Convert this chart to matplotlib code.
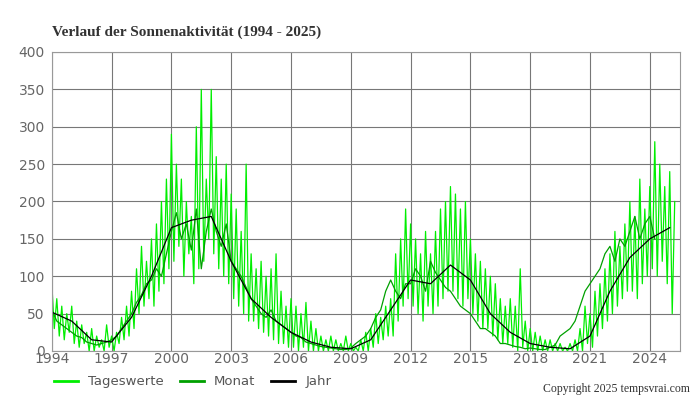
import numpy as np
import matplotlib.pyplot as plt

# Daily values (sampled envelope, 8 per year from 1994)
tageswerte = [
    90, 30, 70, 20, 60, 15, 50, 25,
    60, 10, 40, 5, 35, 10, 25, 0,
    30, 0, 20, 5, 15, 0, 35, 5,
    20, 0, 25, 10, 45, 15, 60, 20,
    80, 30, 110, 50, 140, 60, 120, 70,
    150, 60, 170, 80, 200, 90, 230, 110,
    290, 120, 250, 140, 230, 100, 200, 130,
    180, 90, 300, 110, 350, 120, 230, 150,
    350, 130, 260, 110, 230, 100, 250, 90,
    210, 70, 190, 60, 160, 50, 250, 40,
    130, 40, 110, 30, 120, 25, 100, 20,
    110, 15, 130, 10, 80, 10, 60, 5,
    70, 5, 60, 0, 50, 5, 65, 0,
    40, 0, 30, 0, 20, 0, 15, 0,
    20, 0, 15, 0, 10, 0, 20, 0,
    10, 0, 5, 0, 15, 0, 25, 0,
    30, 5, 50, 10, 45, 15, 60, 20,
    70, 20, 130, 40, 150, 60, 190, 70,
    170, 60, 150, 50, 130, 40, 160, 60,
    130, 50, 160, 60, 190, 70, 200, 80,
    220, 80, 210, 70, 190, 60, 200, 70,
    150, 50, 130, 40, 120, 30, 110, 30,
    100, 20, 90, 15, 70, 10, 60, 10,
    70, 5, 60, 0, 110, 5, 40, 0,
    30, 0, 25, 0, 20, 0, 15, 0,
    15, 0, 10, 0, 10, 0, 5, 0,
    10, 0, 15, 0, 30, 0, 60, 10,
    50, 5, 80, 20, 90, 30, 110, 40,
    130, 50, 160, 60, 140, 70, 170, 80,
    200, 80, 180, 70, 230, 90, 190, 100,
    220, 110, 280, 100, 250, 120, 220, 90,
    240, 50, 200,
]

# Monthly means (sampled quarterly)
monat = [
    55, 40, 35, 30, 25, 20, 18, 12, 10, 8, 10, 12,
    15, 20, 30, 40, 50, 65, 75, 90, 95, 110, 100, 130,
    160, 185, 150, 170, 135, 190, 110, 160, 190, 160, 140, 170,
    120, 110, 100, 85, 70, 60, 50, 45, 55, 40, 35, 30,
    25, 20, 18, 12, 10, 8, 6, 5, 4, 3, 2, 2,
    4, 10, 15, 20, 30, 45, 55, 80, 95, 80, 70, 90,
    90, 110, 100, 80, 120, 105, 95, 85, 80, 70, 60, 55,
    50, 40, 30, 30, 25, 20, 10, 10, 8, 6, 5, 3,
    4, 3, 2, 2, 5, 8, 20, 25, 30, 40, 60, 80,
    90, 100, 110, 130, 140, 120, 150, 140, 160, 180, 150, 170,
    180, 150,
]

# Yearly smoothed values at year starts
jahr = [52, 40, 15, 12, 45, 100, 165, 175, 180, 120, 70, 45, 25, 12, 5, 3,
        15, 55, 95, 90, 115, 95, 50, 25, 10, 5, 3, 20, 80, 125, 150, 165]

x_tag = 1994 + np.arange(len(tageswerte)) / 8
x_monat = 1994 + np.arange(len(monat)) / 4
x_jahr = 1994 + np.arange(len(jahr))

fig = plt.figure(figsize=(7, 4), dpi=100)
ax = fig.add_axes([0.074, 0.1225, 0.897, 0.7475])

ax.plot(x_tag, tageswerte, color='#00ee00', lw=0.9, label='Tageswerte')
ax.plot(x_monat, monat, color='#00a000', lw=0.9, label='Monat')
ax.plot(x_jahr, jahr, color='#000000', lw=0.9, label='Jahr')

ax.set_xlim(1994, 2025.5)
ax.set_ylim(0, 400)
ax.set_xticks(range(1994, 2025, 3))
ax.set_yticks(range(0, 401, 50))
ax.grid(True, color='#777777', lw=0.8)
ax.set_axisbelow(True)
for s in ax.spines.values():
    s.set_color('#999999')
ax.tick_params(colors='#777777', labelsize=10, length=0)
ax.tick_params(axis='y', pad=5)
ax.tick_params(axis='x', pad=1)
for lbl in ax.get_xticklabels() + ax.get_yticklabels():
    lbl.set_color('#666666')

fig.text(0.074, 0.91, 'Verlauf der Sonnenaktivität (1994 - 2025)', fontsize=11,
         fontweight='bold', family='Liberation Serif', color='#333333')
fig.text(0.985, 0.02, 'Copyright 2025 tempsvrai.com', fontsize=8.5,
         family='Liberation Serif', ha='right', color='#333333')
leg = fig.legend(loc='lower left', bbox_to_anchor=(0.06, 0.0), ncol=3, frameon=False,
                 fontsize=9.5, handlelength=1.8, columnspacing=1.2, labelcolor='#555555')
for line in leg.get_lines():
    line.set_linewidth(2)

fig.savefig('out.png')
